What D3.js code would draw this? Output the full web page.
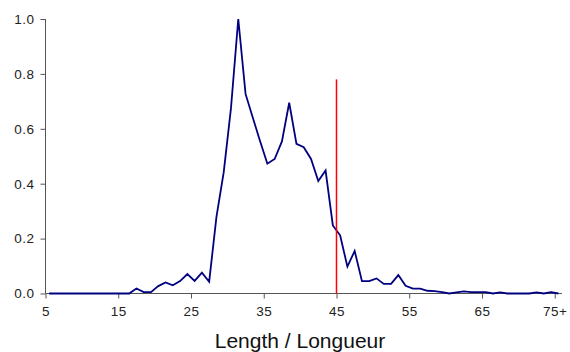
<!DOCTYPE html>
<html>
<head>
<meta charset="utf-8">
<script src="https://cdn.jsdelivr.net/npm/d3@7"></script>
<style>
  body { margin: 0; background: #fff; }
  svg { display: block; }
  .tick text { font-family: "Liberation Sans", Arial, sans-serif; font-size: 13.5px; letter-spacing: 0.5px; fill: #222; }
</style>
</head>
<body>
<svg id="chart" width="570" height="352"></svg>
<script>
// Length bins (lower bound of each 1-unit bin); last bin is 75+
const lengths = [5,6,7,8,9,10,11,12,13,14,15,16,17,18,19,20,21,22,23,24,25,26,27,28,29,30,
  31,32,33,34,35,36,37,38,39,40,41,42,43,44,45,46,47,48,49,50,51,52,53,54,55,56,57,58,59,60,
  61,62,63,64,65,66,67,68,69,70,71,72,73,74,75];
// Relative frequency
const values = [0,0,0,0,0,0,0,0,0,0,0,0,
  0.018,0.005,0.005,0.027,0.040,0.030,0.045,0.071,0.046,0.076,0.043,
  0.279,0.442,0.676,1.000,0.727,0.640,0.555,0.473,0.490,0.554,0.695,
  0.545,0.533,0.490,0.410,0.448,0.248,0.212,0.098,0.155,0.045,0.045,
  0.055,0.035,0.035,0.067,0.028,0.018,0.018,0.010,0.009,0.005,0,
  0.004,0.008,0.005,0.005,0.005,0,0.004,0,0,0,0,0.004,0,0.005,0];
const xTickValues = [5,15,25,35,45,55,65,75];
const xTickLabels = ["5","15","25","35","45","55","65","75+"];
const yTickValues = [0,0.2,0.4,0.6,0.8,1.0];
const refLength = [45];
const refHeight = [0.78];
const xTitle = "Length / Longueur";

const svg = d3.select("#chart");
const x = d3.scaleLinear().domain([5, 76]).range([45.5, 562]);
const y = d3.scaleLinear().domain([0, 1]).range([293.5, 19]);
const axisColor = "#555";

// Y axis
const yAxis = svg.append("g")
  .attr("transform", "translate(45.5,0)")
  .call(d3.axisLeft(y).tickValues(yTickValues).tickFormat(d3.format(".1f")).tickSize(5).tickPadding(6));
yAxis.select(".domain").attr("stroke", axisColor).attr("d", `M0,${y(1)}V${y(0)}`);
yAxis.selectAll(".tick line").attr("stroke", axisColor);

// X axis
const xAxis = svg.append("g")
  .attr("transform", `translate(0,${y(0)})`)
  .call(d3.axisBottom(x).tickValues(xTickValues)
    .tickFormat((d, i) => xTickLabels[i]).tickSize(5).tickPadding(8));
xAxis.select(".domain").attr("stroke", axisColor).attr("d", `M${x(5)},0H${x(76)}`);
xAxis.selectAll(".tick line").attr("stroke", axisColor);

// Data line (points at bin centers)
const line = d3.line()
  .x((d, i) => x(lengths[i] + 0.5))
  .y(d => y(d));
svg.append("path")
  .datum(values)
  .attr("fill", "none")
  .attr("stroke", "#000080")
  .attr("stroke-width", 1.8)
  .attr("stroke-linejoin", "miter")
  .attr("d", line);

// Reference red line
svg.selectAll(".ref")
  .data(refLength)
  .enter().append("line")
  .attr("x1", d => x(d)).attr("x2", d => x(d))
  .attr("y1", (d, i) => y(refHeight[i])).attr("y2", y(0))
  .attr("stroke", "#ff0000")
  .attr("stroke-width", 1.5);

// X title
svg.append("text")
  .attr("x", 300)
  .attr("y", 348)
  .attr("text-anchor", "middle")
  .attr("font-family", "'Liberation Sans', Arial, sans-serif")
  .attr("font-size", 21)
  .attr("fill", "#111")
  .text(xTitle);
</script>
</body>
</html>
